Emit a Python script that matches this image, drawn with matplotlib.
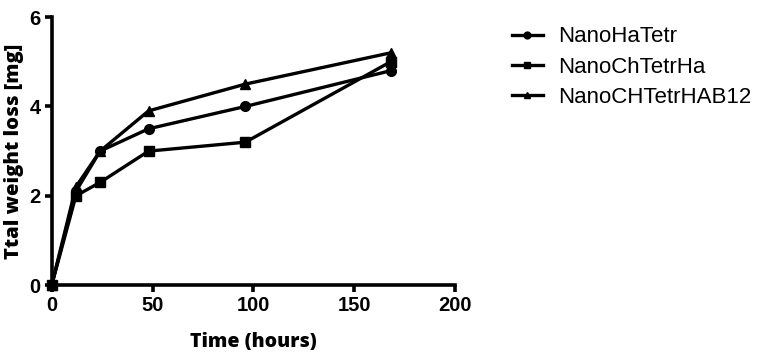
import numpy as np
import matplotlib.pyplot as plt

time_h = [0, 12, 24, 48, 96, 168]
nano_ha_tetr = [0, 2.1, 3.0, 3.5, 4.0, 4.8]
nano_ch_tetr_ha = [0, 2.0, 2.3, 3.0, 3.2, 5.0]
nano_ch_tetr_hab12 = [0, 2.2, 3.0, 3.9, 4.5, 5.2]

series = [
  ("NanoHaTetr", nano_ha_tetr, 'o'),
  ("NanoChTetrHa", nano_ch_tetr_ha, 's'),
  ("NanoCHTetrHAB12", nano_ch_tetr_hab12, '^'),
]

fig = plt.figure(figsize=(7.6, 3.56), dpi=100)
ax = fig.add_axes([0.068, 0.199, 0.531, 0.753])

for name, vals, mk in series:
  ax.plot(time_h, vals, color='k', lw=2.4, marker=mk, markersize=7, label=name, clip_on=False)

ax.set_xlim(0, 200)
ax.set_ylim(0, 6)
ax.set_xticks([0, 50, 100, 150, 200])
ax.set_yticks([0, 2, 4, 6])
for s in ['top', 'right']:
  ax.spines[s].set_visible(False)
for s in ['left', 'bottom']:
  ax.spines[s].set_linewidth(2.6)
ax.tick_params(width=2.6, length=5, direction='out', pad=3)
for lbl in ax.get_xticklabels() + ax.get_yticklabels():
  lbl.set_fontfamily('Liberation Sans')
  lbl.set_fontweight('bold')
  lbl.set_fontsize(14.5)
ax.set_xlabel('Time (hours)', fontfamily='Open Sans', fontweight='heavy', fontsize=14, labelpad=12)
ax.set_ylabel('Ttal weight loss [mg]', fontfamily='Open Sans', fontweight='heavy', fontsize=14.5, labelpad=4)

ax.legend(loc='upper left', bbox_to_anchor=(1.09, 1.04), frameon=False,
          prop={'family': 'Liberation Sans', 'size': 16}, handlelength=1.4,
          handletextpad=0.7, labelspacing=0.42, markerscale=0.7)

fig.savefig('out.png', dpi=100)
